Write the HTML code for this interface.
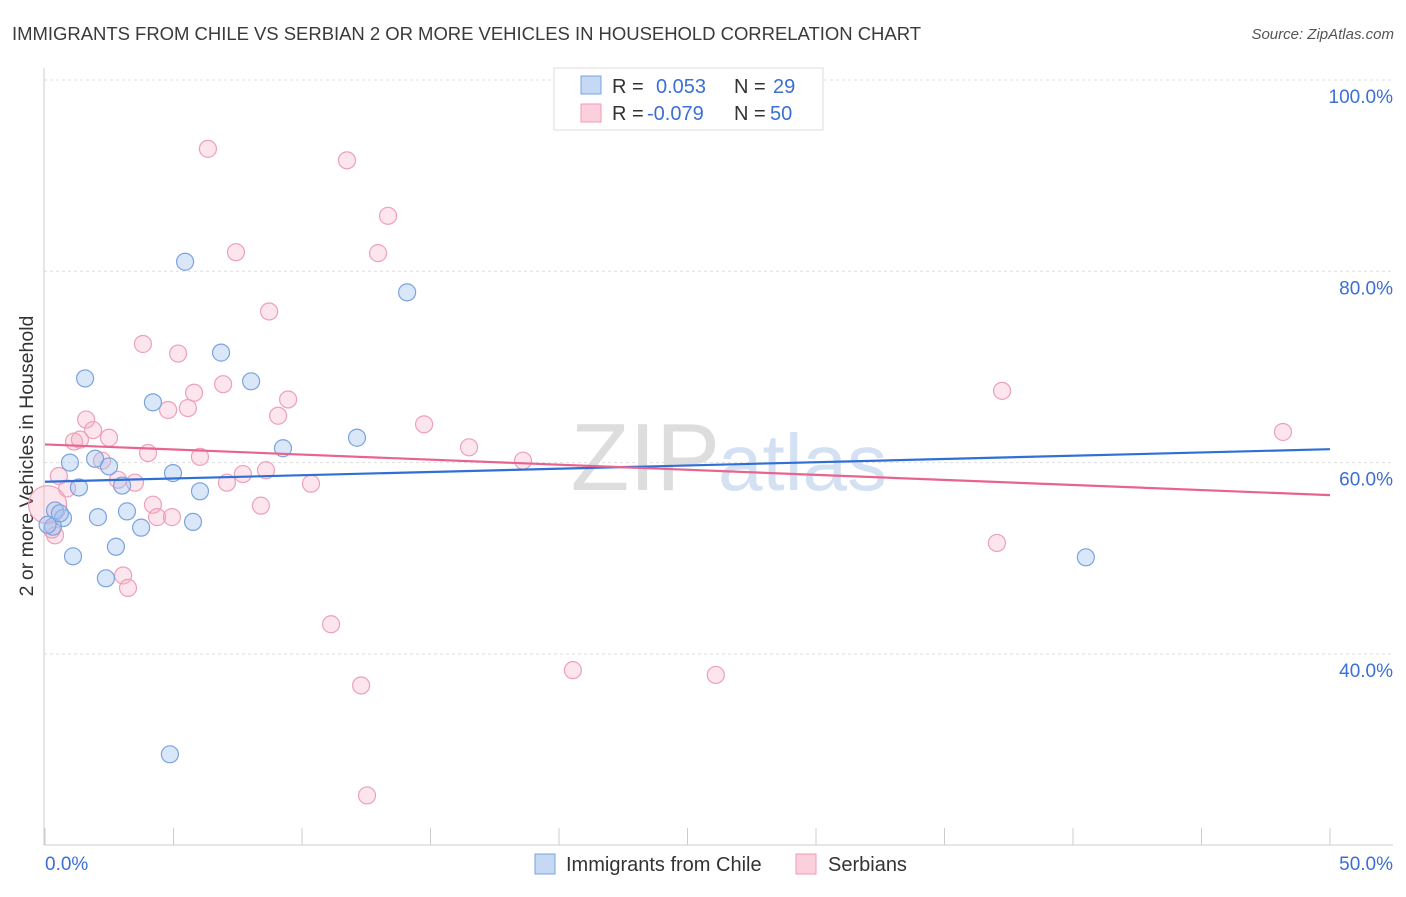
<!DOCTYPE html>
<html><head><meta charset="utf-8"><style>
body{margin:0;background:#fff;font-family:"Liberation Sans",sans-serif}
svg text{font-family:"Liberation Sans",sans-serif}
</style></head><body>
<svg id="chart" width="1406" height="892" xmlns="http://www.w3.org/2000/svg">
<text x="12" y="40" font-size="18.5" fill="#3a3a3a" textLength="909">IMMIGRANTS FROM CHILE VS SERBIAN 2 OR MORE VEHICLES IN HOUSEHOLD CORRELATION CHART</text>
<text x="1394" y="39" font-size="15" fill="#555" text-anchor="end" font-style="italic">Source: ZipAtlas.com</text>
<text x="720" y="490" font-size="96" fill="#ddd" text-anchor="end" font-family="Liberation Serif">ZIP</text>
<text x="718" y="490" font-size="80" fill="#d4e1f3">atlas</text>
<g id="grid"></g>
<line x1="44" y1="68" x2="44" y2="845" stroke="#ccc"/>
<line x1="44" y1="845" x2="1393" y2="845" stroke="#ccc"/>
<g id="xticks"></g>
<text x="45" y="870" font-size="19" fill="#3b6fd4">0.0%</text>
<text x="1393" y="870" font-size="19" fill="#3b6fd4" text-anchor="end">50.0%</text>
<text transform="translate(33,456) rotate(-90)" font-size="19.5" fill="#333" text-anchor="middle">2 or more Vehicles in Household</text>
<g id="points"></g>
<g id="lines"></g>
<g>
<rect x="554" y="68" width="269" height="62" fill="#fff" stroke="#ddd"/>
<rect x="581" y="76" width="20" height="18" fill="#c5d9f5" stroke="#7aa3e0"/>
<rect x="581" y="104" width="20" height="18" fill="#fbd0dc" stroke="#f09ab3"/>
<text x="612" y="93" font-size="20" fill="#333">R = <tspan fill="#3b6fd4" x="656">0.053</tspan><tspan x="734" fill="#333">N = </tspan><tspan fill="#3b6fd4" x="773">29</tspan></text>
<text x="612" y="120" font-size="20" fill="#333">R = <tspan fill="#3b6fd4" x="647">-0.079</tspan><tspan x="734" fill="#333">N = </tspan><tspan fill="#3b6fd4" x="770">50</tspan></text>
</g>
<g>
<rect x="535" y="854" width="20" height="20" fill="#c5d9f5" stroke="#7aa3e0"/>
<text x="566" y="871" font-size="20" fill="#333">Immigrants from Chile</text>
<rect x="796" y="854" width="20" height="20" fill="#fbd0dc" stroke="#f09ab3"/>
<text x="828" y="871" font-size="20" fill="#333">Serbians</text>
</g>
</svg>
<script>
const yTicks=[40,60,80,100];
const yTickLabels=["40.0%","60.0%","80.0%","100.0%"];
const chileX=[5.45,14.09,6.85,8.02,1.56,4.2,12.14,9.26,0.97,1.95,2.49,4.98,3.0,6.03,1.32,0.39,0.7,2.06,3.19,5.76,3.74,0.31,2.76,1.09,2.37,4.86,40.5,0.58,0.1];
const chileY=[81.0,77.8,71.5,68.5,68.8,66.3,62.6,61.5,60.0,60.4,59.6,58.9,57.6,57.0,57.4,55.0,54.2,54.3,54.9,53.8,53.2,53.3,51.2,50.2,47.9,29.5,50.1,54.7,53.5];
const serbX=[6.34,11.75,13.35,7.43,12.96,8.72,3.81,5.18,6.93,5.8,9.46,4.79,5.56,1.6,9.07,1.87,1.13,1.36,2.49,14.75,16.5,4.01,6.03,2.22,18.6,0.54,2.84,3.5,7.7,8.6,7.08,10.35,0.86,4.2,8.4,4.36,4.94,0.39,3.04,3.23,11.13,12.3,20.54,26.1,12.53,37.24,48.17,37.04,0.1,0.27];
const serbY=[92.8,91.6,85.8,82.0,81.9,75.8,72.4,71.4,68.2,67.3,66.6,65.5,65.7,64.5,64.9,63.4,62.2,62.4,62.6,64.0,61.6,61.0,60.6,60.2,60.2,58.6,58.2,57.9,58.8,59.2,57.9,57.8,57.3,55.6,55.5,54.3,54.3,52.4,48.2,46.9,43.1,36.7,38.3,37.8,25.2,67.5,63.2,51.6,55.6,53.0];
const chileTrend=[58.0,61.4];
const serbTrend=[61.9,56.6];
const NS="http://www.w3.org/2000/svg";
const xs=v=>45+v*25.7;
const ys=v=>80+(100-v)*9.565;
function mk(t,a,p){const e=document.createElementNS(NS,t);for(const k in a)e.setAttribute(k,a[k]);document.getElementById(p).appendChild(e);return e;}
yTicks.forEach((t,i)=>{
 const l=mk('line',{x1:44,x2:1393,y1:ys(t),y2:ys(t),stroke:'#ddd','stroke-dasharray':'3,3'},'grid');
 
 
 const tx=mk('text',{x:1393,y:ys(t)+23,'font-size':19,fill:'#3b6fd4','text-anchor':'end'},'grid');
 tx.textContent=yTickLabels[i];
 
 
});
for(let i=0;i<=10;i++){
 const l=mk('line',{x1:xs(i*5),x2:xs(i*5),y1:828,y2:845,stroke:'#ccc'},'xticks');
 
 
}
serbX.forEach((x,i)=>{
 const c=mk('circle',{cx:xs(x),cy:ys(serbY[i]),r:(i==48?19:8.5),fill:'rgba(246,168,192,0.3)',stroke:'#eea0b8','stroke-width':1.2},'points');
 
 
});
chileX.forEach((x,i)=>{
 const c=mk('circle',{cx:xs(x),cy:ys(chileY[i]),r:8.5,fill:'rgba(160,195,240,0.4)',stroke:'#7aa3e0','stroke-width':1.2},'points');
 
 
});
const l1=mk('line',{x1:xs(0),x2:xs(50),y1:ys(chileTrend[0]),y2:ys(chileTrend[1]),stroke:'#2f6fd6','stroke-width':2.2},'lines');


const l2=mk('line',{x1:xs(0),x2:xs(50),y1:ys(serbTrend[0]),y2:ys(serbTrend[1]),stroke:'#e8648e','stroke-width':2.2},'lines');


</script>
</body></html>
